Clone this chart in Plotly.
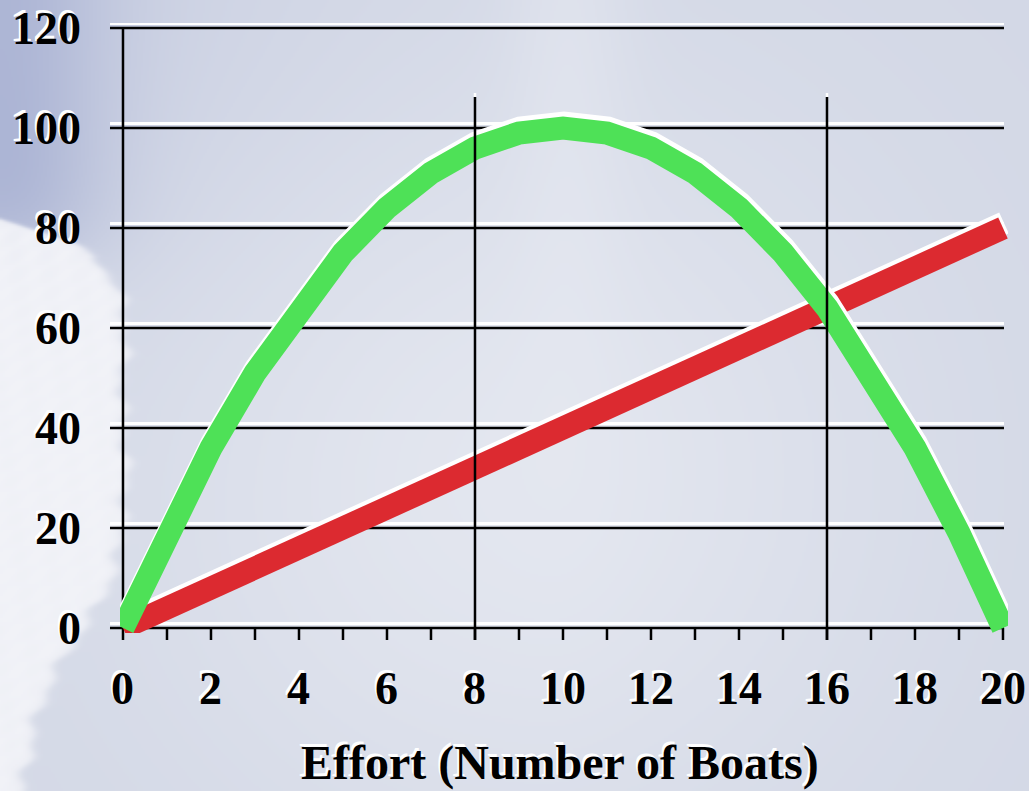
import base64
import struct
import zlib

import numpy as np
import plotly.graph_objects as go

# ---------------------------------------------------------------- data
effort = [0, 1, 2, 3, 4, 5, 6, 7, 8, 9, 10, 11, 12, 13, 14, 15, 16, 17, 18, 19, 20]
revenue = [0, 19, 36, 51, 64, 75, 84, 91, 96, 99, 100, 99, 96, 91, 84, 75, 64, 51, 36, 19, 0]
cost = [0, 4, 8, 12, 16, 20, 24, 28, 32, 36, 40, 44, 48, 52, 56, 60, 64, 68, 72, 76, 80]

x_tick_values = [0, 2, 4, 6, 8, 10, 12, 14, 16, 18, 20]
x_tick_labels = ["0", "2", "4", "6", "8", "10", "12", "14", "16", "18", "20"]
y_tick_values = [0, 20, 40, 60, 80, 100, 120]
y_tick_labels = ["0", "20", "40", "60", "80", "100", "120"]
marked_efforts = [8, 16]
x_title = "Effort (Number of Boats)"

# ---------------------------------------------------------------- layout geometry
W, H = 1029, 791
MARGIN = dict(l=120, r=21, t=23, b=158)
X_RANGE = [-0.068, 20.114]
Y_RANGE = [-1.0, 121.0]
PLOT_W = W - MARGIN["l"] - MARGIN["r"]
PLOT_H = H - MARGIN["t"] - MARGIN["b"]
PX_X = (X_RANGE[1] - X_RANGE[0]) / PLOT_W   # data units per pixel
PX_Y = (Y_RANGE[1] - Y_RANGE[0]) / PLOT_H


def paper_x(v, shift_px=0.0):
    return (v - X_RANGE[0]) / (X_RANGE[1] - X_RANGE[0]) + shift_px / PLOT_W


def paper_y(v, shift_px=0.0):
    return (v - Y_RANGE[0]) / (Y_RANGE[1] - Y_RANGE[0]) + shift_px / PLOT_H


GREEN = "#4ee157"
RED = "#dc2a30"
LINE_W = 23
GLOW_DX, GLOW_DY = 1.0, 5.0        # white highlight offset, pixels
TEXT_SHADOW = "-2px -3px 0px #ffffff"
FONT = "Liberation Serif, Times New Roman, serif"


# ---------------------------------------------------------------- sky backdrop
def sky_image(w, h):
    yy, xx = np.mgrid[0:h, 0:w].astype(float)
    px = xx * W / w
    py = yy * H / h
    u = px / W
    v = py / H

    img = np.empty((h, w, 3))
    img[:] = np.array([0xd3, 0xd8, 0xe6], float)

    def blend(weight, color):
        c = np.array(color, float)
        img[:] = img * (1 - weight[..., None]) + c * weight[..., None]

    # bright middle
    blend(0.85 * np.exp(-(((u - 0.5) / 0.38) ** 2 + ((v - 0.6) / 0.5) ** 2)), (0xe6, 0xe9, 0xf1))
    # pale sun streak
    blend(0.35 * np.exp(-((u - 0.55) / 0.06) ** 2) * np.exp(-(v / 0.55) ** 2), (0xee, 0xf0, 0xf6))
    # deeper blue sky in the upper-left corner
    blend(0.85 * np.exp(-((u / 0.1) ** 2)) * (1 / (1 + np.exp((py - 245) / 25))), (0x9e, 0xa8, 0xce))
    blend(0.35 * np.exp(-((u / 0.3) ** 2)) * np.exp(-((v / 0.35) ** 2)), (0xbc, 0xc3, 0xdd))

    # cloud bank along the left edge
    edge_y = [0, 212, 232, 255, 285, 320, 400, 480, 560, 600, 650, 700, 760, 791]
    edge_x = [-80, -20, 45, 95, 115, 125, 120, 126, 116, 100, 66, 40, 26, 22]
    edge = np.interp(py, edge_y, edge_x)
    edge += 4 * np.sin(py / 9.0) + 3 * np.sin(py / 4.3 + 1.3)
    cloud = 1 / (1 + np.exp(-(edge - px) / 3.0))
    texture = 0.04 * np.sin(px / 5.0 + py / 7.0) * np.sin(py / 6.0)
    blend(np.clip(cloud * (0.96 + texture), 0, 1), (0xf2, 0xf3, 0xf8))

    return np.clip(img, 0, 255).astype(np.uint8)


def png_data_uri(rgb):
    h, w, _ = rgb.shape
    raw = b"".join(b"\x00" + rgb[i].tobytes() for i in range(h))

    def chunk(tag, data):
        return (struct.pack(">I", len(data)) + tag + data
                + struct.pack(">I", zlib.crc32(tag + data) & 0xFFFFFFFF))

    png = (b"\x89PNG\r\n\x1a\n"
           + chunk(b"IHDR", struct.pack(">IIBBBBB", w, h, 8, 2, 0, 0, 0))
           + chunk(b"IDAT", zlib.compress(raw, 9))
           + chunk(b"IEND", b""))
    return "data:image/png;base64," + base64.b64encode(png).decode()


# ---------------------------------------------------------------- traces
fig = go.Figure()


def add_curve(xs, ys, color):
    fig.add_trace(go.Scatter(
        x=[x + GLOW_DX * PX_X for x in xs], y=[y + GLOW_DY * PX_Y for y in ys],
        mode="lines", line=dict(color="#ffffff", width=LINE_W),
        hoverinfo="skip", showlegend=False))
    fig.add_trace(go.Scatter(
        x=xs, y=ys, mode="lines", line=dict(color=color, width=LINE_W),
        showlegend=False))


add_curve(effort, cost, RED)
add_curve(effort, revenue, GREEN)

# ---------------------------------------------------------------- grid, axes, ticks
shapes = []
grid_x0 = paper_x(0, -13)
grid_x1 = paper_x(20, 1)
for val in y_tick_values:
    shapes.append(dict(type="line", xref="paper", yref="y", layer="below",
                       x0=grid_x0, x1=grid_x1, y0=val + 4.5 * PX_Y, y1=val + 4.5 * PX_Y,
                       line=dict(color="#ffffff", width=3)))
    shapes.append(dict(type="line", xref="paper", yref="y", layer="below",
                       x0=grid_x0, x1=grid_x1, y0=val, y1=val,
                       line=dict(color="#000000", width=2.5)))

# vertical axis line
shapes.append(dict(type="line", xref="x", yref="paper", layer="below",
                   x0=0, x1=0, y0=paper_y(0, -12), y1=paper_y(y_tick_values[-1]),
                   line=dict(color="#000000", width=2.5)))

# small ticks below the horizontal axis
for e in effort[1:]:
    shapes.append(dict(type="line", xref="x", yref="paper", layer="below",
                       x0=e, x1=e, y0=paper_y(0, -12), y1=paper_y(0),
                       line=dict(color="#000000", width=2.5)))

# marker lines at selected effort levels
MARK_TOP = 106.2
for e in marked_efforts:
    shapes.append(dict(type="line", xref="x", yref="paper", layer="above",
                       x0=e, x1=e, y0=paper_y(MARK_TOP), y1=paper_y(MARK_TOP, 4),
                       line=dict(color="#ffffff", width=2.5)))
    shapes.append(dict(type="line", xref="x", yref="paper", layer="above",
                       x0=e, x1=e, y0=paper_y(0, -12), y1=paper_y(MARK_TOP),
                       line=dict(color="#000000", width=2.5)))

# ---------------------------------------------------------------- labels
label_font = dict(family=FONT, size=46, color="#000000", weight="bold", shadow=TEXT_SHADOW)
annotations = []
for val, txt in zip(y_tick_values, y_tick_labels):
    annotations.append(dict(text=txt, xref="paper", yref="y",
                            x=paper_x(0, -40), y=val, xanchor="right", yanchor="middle",
                            showarrow=False, font=label_font))
for val, txt in zip(x_tick_values, x_tick_labels):
    annotations.append(dict(text=txt, xref="x", yref="paper",
                            x=val, y=paper_y(0, -60), xanchor="center", yanchor="middle",
                            showarrow=False, font=label_font))
annotations.append(dict(text=x_title, xref="paper", yref="paper",
                        x=paper_x(10, -3), y=paper_y(0, -135), xanchor="center", yanchor="middle",
                        showarrow=False,
                        font=dict(family=FONT, size=48, color="#000000", weight="bold",
                                  shadow=TEXT_SHADOW)))

sky = sky_image(515, 396)

fig.update_layout(
    width=W, height=H,
    margin=dict(**MARGIN, pad=0),
    paper_bgcolor="#dde0eb",
    plot_bgcolor="rgba(0,0,0,0)",
    showlegend=False,
    xaxis=dict(range=X_RANGE, visible=False, fixedrange=True),
    yaxis=dict(range=Y_RANGE, visible=False, fixedrange=True),
    shapes=shapes,
    annotations=annotations,
    images=[dict(source=png_data_uri(sky), xref="paper", yref="paper",
                 x=-MARGIN["l"] / PLOT_W, y=1 + MARGIN["t"] / PLOT_H,
                 sizex=W / PLOT_W, sizey=H / PLOT_H,
                 xanchor="left", yanchor="top", sizing="stretch", layer="below")],
)

fig.write_html("out.html")
